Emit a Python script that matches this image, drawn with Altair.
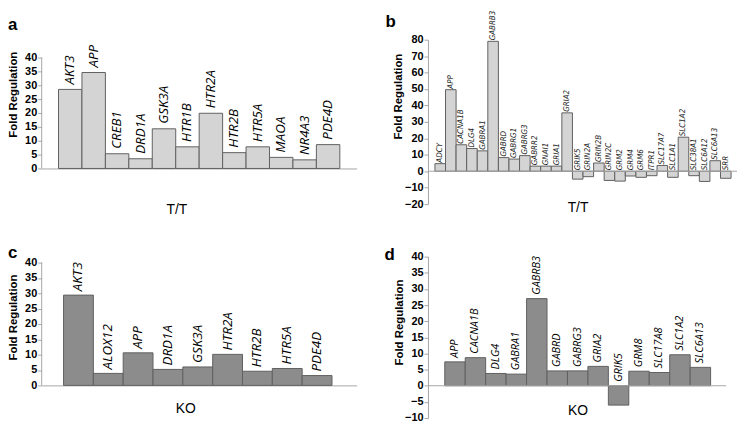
import altair as alt
import pandas as pd

# ---------------- data ----------------
genes_a = ["AKT3", "APP", "CREB1", "DRD1A", "GSK3A", "HTR1B", "HTR2A",
           "HTR2B", "HTR5A", "MAOA", "NR4A3", "PDE4D"]
vals_a = [28.5, 34.6, 5.3, 3.5, 14.3, 7.8, 19.9, 5.7, 7.8, 4.0, 3.1, 8.6]

genes_b = ["ADCY", "APP", "CACNA1B", "DLG4", "GABRA1", "GABRB3", "GABRD",
           "GABRG1", "GABRG3", "GABRR2", "GNAI1", "GRIA1", "GRIA2", "GRIK5",
           "GRIN2A", "GRIN2B", "GRIN2C", "GRM2", "GRM4", "GRM6", "ITPR1",
           "SLC17A7", "SLC1A1", "SLC1A2", "SLC38A1", "SLC6A12", "SLC6A13", "SRR"]
vals_b = [4.6, 49.6, 16.1, 13.8, 12.4, 79.0, 8.3, 7.4, 9.5, 3.1, 3.1, 3.1,
          35.5, -4.8, -3.3, 5.0, -5.6, -6.0, -2.9, -3.7, -2.7, 3.5, -3.7,
          20.7, -2.7, -6.2, 6.4, -4.3]

genes_c = ["AKT3", "ALOX12", "APP", "DRD1A", "GSK3A", "HTR2A", "HTR2B",
           "HTR5A", "PDE4D"]
vals_c = [29.4, 3.9, 10.6, 5.2, 6.0, 10.1, 4.6, 5.5, 3.2]

genes_d = ["APP", "CACNA1B", "DLG4", "GABRA1", "GABRB3", "GABRD", "GABRG3",
           "GRIA2", "GRIK5", "GRM8", "SLC17A8", "SLC1A2", "SLC6A13"]
vals_d = [7.4, 8.7, 3.8, 3.6, 27.0, 4.6, 4.6, 6.0, -6.0, 4.5, 4.1, 9.6, 5.7]

ticks_a = [0, 5, 10, 15, 20, 25, 30, 35, 40]
ticks_b = [-20, -10, 0, 10, 20, 30, 40, 50, 60, 70, 80]
ticks_c = [0, 5, 10, 15, 20, 25, 30, 35, 40]
ticks_d = [-10, -5, 0, 5, 10, 15, 20, 25, 30, 35, 40]

AXIS_GREY = "#a6a6a6"
SANS = "Liberation Sans"
LAB_WIDE = "Open Sans"
LAB_NARROW = "DejaVu Sans Condensed, sans-serif"


def panel(genes, vals, group, letter, fill, width, height, ydomain, ticks,
          pad_outer, band_align, lab_font, lab_size, lab_color, lab_dx,
          ytx, yty, xtx, xty, lx, ly, axis_line_top=None):
    df = pd.DataFrame({"gene": genes, "v": vals})

    x = alt.X("gene:N", sort=genes,
              scale=alt.Scale(paddingInner=0, paddingOuter=pad_outer,
                              align=band_align),
              axis=alt.Axis(labels=False, ticks=False,
                            domain=axis_line_top is not None,
                            domainColor=AXIS_GREY, domainWidth=1,
                            title=group, titleFont=SANS, titleFontSize=14,
                            titleFontWeight="normal", titleColor="black",
                            titleX=xtx, titleY=xty, titleBaseline="middle",
                            titleAlign="center"))

    yaxis = alt.Axis(values=ticks, domain=axis_line_top is None,
                     domainColor=AXIS_GREY, tickColor=AXIS_GREY, tickSize=4,
                     labelPadding=1, labelFont=SANS, labelFontWeight="bold",
                     labelFontSize=11, labelColor="black", grid=False,
                     labelOverlap=False,
                     title="Fold Regulation", titleFont=SANS,
                     titleFontWeight="bold", titleFontSize=11.5,
                     titleColor="black", titleAngle=270, titleX=ytx,
                     titleY=yty, titleBaseline="middle", titleAlign="center")

    def Y(field):
        return alt.Y(field, type="quantitative",
                     scale=alt.Scale(domain=ydomain, nice=False),
                     axis=yaxis, title="Fold Regulation")

    bars = alt.Chart(df).mark_bar(fill=fill, stroke="#606060",
                                  strokeWidth=1).encode(
        x=x, y=Y("v"), y2=alt.datum(0))

    labels = alt.Chart(df).transform_calculate(
        ylab="max(datum.v, 0)"
    ).mark_text(angle=270, align="left", baseline="middle", dx=lab_dx,
                font=lab_font, fontStyle="italic", fontSize=lab_size,
                color=lab_color).encode(x=x, y=Y("ylab"), text="gene:N")

    layers = [bars, labels]

    if axis_line_top is not None:
        yline = alt.Chart(pd.DataFrame({"lo": [0], "hi": [axis_line_top]})
                          ).mark_rule(color=AXIS_GREY, strokeWidth=1).encode(
            x=alt.value(0), y=Y("lo"), y2="hi:Q")
        layers.append(yline)
    else:
        zline = alt.Chart(pd.DataFrame({"z": [0]})).mark_rule(
            color=AXIS_GREY, strokeWidth=1).encode(
            y=Y("z"), x=alt.value(0), x2=alt.value(width))
        layers.append(zline)

    tag = alt.Chart(pd.DataFrame({"t": [letter]})).mark_text(
        align="left", baseline="alphabetic", font=SANS, fontWeight="bold",
        fontSize=17, color="black").encode(
        text="t:N", x=alt.value(lx), y=alt.value(ly))
    layers.append(tag)

    return alt.layer(*layers).properties(width=width, height=height)


pa = panel(genes_a, vals_a, "T/T", "a", "#d4d4d4", 318, 130, [0, 46.43],
           ticks_a, 0.718, 0.5, LAB_WIDE, 13.5, "black", 5,
           -28, 55, 136, 41, -34, -10, axis_line_top=40)
pb = panel(genes_b, vals_b, "T/T", "b", "#d4d4d4", 312, 166, [-20, 80],
           ticks_b, 0.61, 0.54, LAB_NARROW, 8, "#222222", 1,
           -30, 57, 151, 3, -43, -13)
pc = panel(genes_c, vals_c, "KO", "c", "#8c8c8c", 318, 130, [0, 41.94],
           ticks_c, 0.78, 0.47, LAB_WIDE, 13.5, "black", 4,
           -28, 61, 145, 23, -34, 1, axis_line_top=40)
pd_ = panel(genes_d, vals_d, "KO", "d", "#8c8c8c", 301, 163, [-10.02, 40.02],
            ticks_d, 0.79, 0.52, LAB_WIDE, 11, "black", 4,
            -28.5, 66, 151, -8, -44, 3)

chart = alt.concat(pa, pb, pc, pd_, columns=2,
                   spacing={"row": 53, "column": 72}, bounds="flush"
                   ).properties(
    padding={"left": 0, "top": 0, "right": 0, "bottom": 0},
    background="white"
).configure_view(stroke=None)

chart.save("out.html", embed_options={"renderer": "svg", "actions": False})
